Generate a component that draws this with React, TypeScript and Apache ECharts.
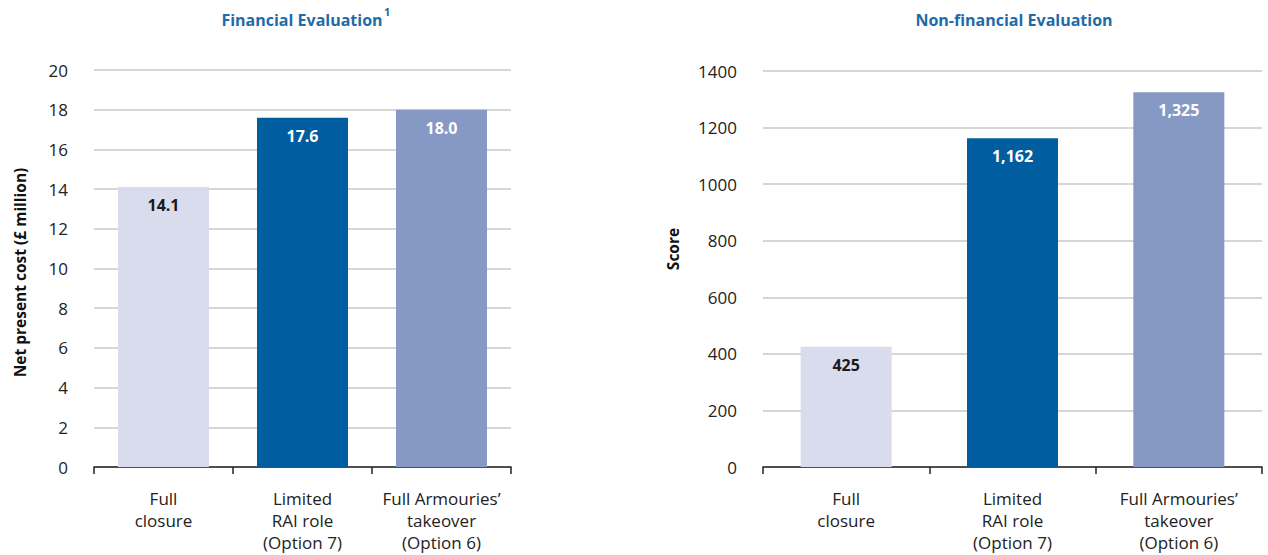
import React, { useEffect, useRef } from "react";
import * as echarts from "echarts";

const categories = ["Full\nclosure", "Limited\nRAI role\n(Option 7)", "Full Armouries’\ntakeover\n(Option 6)"];
const financialValues = [14.1, 17.6, 18.0];
const nonFinancialValues = [425, 1162, 1325];
const barColors = ["#d9dcec", "#005d9f", "#8599c4"];
const labelColors = ["#1a1a1a", "#ffffff", "#ffffff"];
const financialTitle = "Financial Evaluation";
const nonFinancialTitle = "Non-financial Evaluation";
const financialAxisName = "Net present cost (£ million)";
const nonFinancialAxisName = "Score";

const FONT = "'Open Sans', 'Noto Sans', sans-serif";
const TITLE_COLOR = "#1f6aa8";

export default function App() {
  const ref = useRef<HTMLDivElement>(null);
  useEffect(() => {
    if (!ref.current) return;
    const chart = echarts.init(ref.current, undefined, { renderer: "svg" });

    const makeData = (vals: number[], fmt: (v: number) => string) =>
      vals.map((v, i) => ({
        value: v,
        itemStyle: { color: barColors[i] },
        label: {
          show: true,
          position: "insideTop",
          distance: 10,
          color: labelColors[i],
          fontWeight: "bold",
          fontSize: 16,
          fontFamily: FONT,
          formatter: () => fmt(v),
        },
      }));

    const xAxisCommon = {
      type: "category",
      data: categories,
      axisLine: { show: true, lineStyle: { color: "#222", width: 1.5 } },
      axisTick: { show: true, length: 7, lineStyle: { color: "#222", width: 1.5 }, alignWithLabel: false },
      axisLabel: { color: "#222", fontSize: 17, fontFamily: FONT, lineHeight: 22, margin: 20, interval: 0 },
      splitLine: { show: false },
    };

    const yAxisCommon = {
      type: "value",
      axisLine: { show: false },
      axisTick: { show: false },
      axisLabel: { color: "#222", fontSize: 17, fontFamily: FONT, margin: 26, formatter: (v: number) => String(v) },
      splitLine: { show: true, lineStyle: { color: "#c8c8c8", width: 1.5 } },
      nameLocation: "middle",
      nameTextStyle: { color: "#111", fontSize: 15.5, fontWeight: "bold", fontFamily: FONT },
    };

    chart.setOption({
      animation: false,
      grid: [
        { left: 94, top: 70, width: 417, height: 397, containLabel: false },
        { left: 763, top: 71, width: 499, height: 396, containLabel: false },
      ],
      xAxis: [
        { ...xAxisCommon, gridIndex: 0 },
        { ...xAxisCommon, gridIndex: 1 },
      ],
      yAxis: [
        {
          ...yAxisCommon,
          gridIndex: 0,
          min: 0,
          max: 20,
          interval: 2,
          name: financialAxisName,
          nameGap: 66,
          nameTextStyle: { ...yAxisCommon.nameTextStyle, padding: [0, 8, 0, 0] },
        },
        {
          ...yAxisCommon,
          gridIndex: 1,
          min: 0,
          max: 1400,
          interval: 200,
          name: nonFinancialAxisName,
          nameGap: 82,
          nameTextStyle: { ...yAxisCommon.nameTextStyle, padding: [0, 0, 0, 40] },
        },
      ],
      series: [
        {
          type: "bar",
          xAxisIndex: 0,
          yAxisIndex: 0,
          barWidth: 91,
          data: makeData(financialValues, (v) => v.toFixed(1)),
        },
        {
          type: "bar",
          xAxisIndex: 1,
          yAxisIndex: 1,
          barWidth: 91,
          data: makeData(nonFinancialValues, (v) => v.toLocaleString("en-US")),
        },
      ],
      graphic: [
        {
          type: "text",
          x: 302,
          y: 20,
          style: {
            text: financialTitle,
            fill: TITLE_COLOR,
            font: `bold 16px ${FONT}`,
            align: "center",
            verticalAlign: "middle",
          },
        },
        {
          type: "text",
          x: 384,
          y: 11,
          style: {
            text: "1",
            fill: TITLE_COLOR,
            font: `bold 11px ${FONT}`,
            align: "left",
            verticalAlign: "middle",
          },
        },
        {
          type: "text",
          x: 1014,
          y: 20,
          style: {
            text: nonFinancialTitle,
            fill: TITLE_COLOR,
            font: `bold 16px ${FONT}`,
            align: "center",
            verticalAlign: "middle",
          },
        },
      ],
    });
    return () => chart.dispose();
  }, []);

  return (
    <div
      ref={ref}
      style={{ position: "fixed", left: 0, top: 0, width: 1268, height: 555, background: "#fff" }}
    />
  );
}
